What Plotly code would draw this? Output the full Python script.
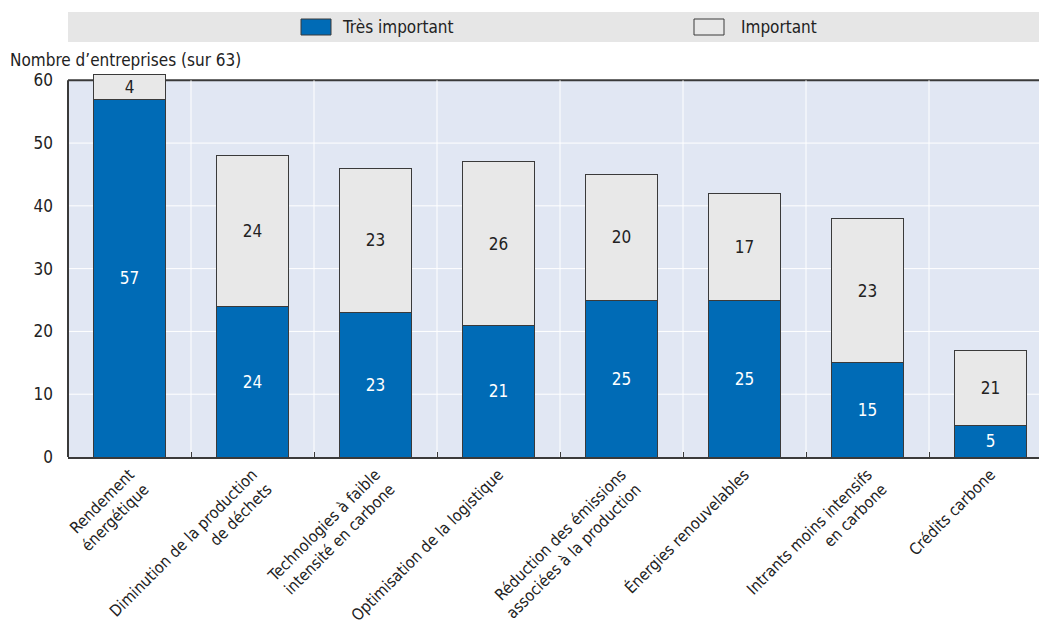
import plotly.graph_objects as go

categories = [
    "Rendement<br>énergétique",
    "Diminution de la production<br>de déchets",
    "Technologies à faible<br>intensité en carbone",
    "Optimisation de la logistique",
    "Réduction des émissions<br>associées à la production",
    "Énergies renouvelables",
    "Intrants moins intensifs<br>en carbone",
    "Crédits carbone",
]
tres_important = [57, 24, 23, 21, 25, 25, 15, 5]
important = [4, 24, 23, 26, 20, 17, 23, 12]
important_labels = ["4", "24", "23", "26", "20", "17", "23", "21"]
y_ticks = [0, 10, 20, 30, 40, 50, 60]

FONT = "Liberation Sans Narrow, DejaVu Sans Condensed, Arial Narrow, sans-serif"
BLUE = "#006BB6"
GREY = "#E8E8E8"
DARK = "#3a3a3a"
FS = 17
FS_TICK_X = 16

fig = go.Figure()
fig.add_trace(go.Bar(
    x=categories, y=tres_important, name="Très important",
    marker=dict(color=BLUE, line=dict(color=DARK, width=1)),
    text=[str(v) for v in tres_important], textposition="inside",
    insidetextanchor="middle", textangle=0, constraintext="none",
    textfont=dict(color="white", size=FS, family=FONT),
    width=0.58, showlegend=False, hoverinfo="skip",
))
fig.add_trace(go.Bar(
    x=categories, y=important, name="Important",
    marker=dict(color=GREY, line=dict(color=DARK, width=1)),
    text=important_labels, textposition="inside",
    insidetextanchor="middle", textangle=0, constraintext="none",
    textfont=dict(color="#222222", size=FS, family=FONT),
    width=0.58, showlegend=False, hoverinfo="skip",
))

W, H = 1039, 630
px0, px1 = 68, 1039
ptop, pbot = 74, 457
pw = px1 - px0
ph = pbot - ptop
def fx(p):
    return (p - px0) / pw
def fy(p):
    return (pbot - p) / ph

shapes = [
    dict(type="rect", xref="paper", yref="paper", x0=0, x1=1,
         y0=fy(42), y1=fy(12), fillcolor="#E6E6E6", line=dict(width=0), layer="below"),
    dict(type="rect", xref="paper", yref="paper", x0=fx(301), x1=fx(331),
         y0=fy(35), y1=fy(19), fillcolor=BLUE, line=dict(color=DARK, width=1)),
    dict(type="rect", xref="paper", yref="paper", x0=fx(694), x1=fx(724),
         y0=fy(35), y1=fy(19), fillcolor=GREY, line=dict(color=DARK, width=1)),
]
annotations = [
    dict(text="Très important", xref="paper", yref="paper", x=fx(340), y=fy(27),
         xanchor="left", yanchor="middle", showarrow=False,
         font=dict(size=FS, family=FONT, color="#222222")),
    dict(text="Important", xref="paper", yref="paper", x=fx(739), y=fy(27),
         xanchor="left", yanchor="middle", showarrow=False,
         font=dict(size=FS, family=FONT, color="#222222")),
    dict(text="Nombre d’entreprises (sur 63)", xref="paper", yref="paper",
         x=fx(8), y=fy(60), xanchor="left", yanchor="middle", showarrow=False,
         font=dict(size=FS, family=FONT, color="#222222")),
]

fig.update_layout(
    barmode="stack",
    width=W, height=H,
    margin=dict(l=px0, r=W - px1, t=ptop, b=H - pbot, autoexpand=False),
    paper_bgcolor="white",
    plot_bgcolor="rgba(0,0,0,0)",
    font=dict(family=FONT, size=FS, color="#222222"),
    shapes=shapes,
    annotations=annotations,
    hovermode=False,
)
# blue-grey plot background only up to 60
fig.add_shape(type="rect", xref="paper", yref="y", x0=0, x1=1, y0=0, y1=60,
              fillcolor="#E1E7F3", line=dict(width=0), layer="below")
# vertical white gridlines at category boundaries
for k in range(1, 8):
    fig.add_shape(type="line", xref="x", yref="y", x0=k - 0.5, x1=k - 0.5, y0=0, y1=60,
                  line=dict(color="white", width=1), layer="below")
# horizontal white gridlines
for t in y_ticks[1:-1]:
    fig.add_shape(type="line", xref="paper", yref="y", x0=0, x1=1, y0=t, y1=t,
                  line=dict(color="white", width=1), layer="below")
# top frame line at 60 and left axis line
fig.add_shape(type="line", xref="paper", yref="y", x0=0, x1=1, y0=60, y1=60,
              line=dict(color=DARK, width=2), layer="below")
fig.add_shape(type="line", xref="paper", yref="y", x0=0, x1=0, y0=0, y1=60,
              line=dict(color=DARK, width=2))

fig.update_xaxes(
    range=[-0.5, 7.394], tickangle=-45, tickson="boundaries",
    showgrid=False, automargin=False, fixedrange=True,
    ticks="inside", ticklen=5, tickcolor=DARK,
    showline=True, linecolor=DARK, linewidth=2,
    tickfont=dict(size=FS_TICK_X, family=FONT, color="#222222"),
)
fig.update_yaxes(
    range=[0, 61], tickvals=y_ticks, showgrid=False, automargin=False, fixedrange=True,
    showline=False, zeroline=False,
    ticks="", ticklabelstandoff=14,
    tickfont=dict(size=FS, family=FONT, color="#222222"),
)

fig.write_html(
    "out.html",
    config={"displayModeBar": False, "staticPlot": True},
    post_script="document.body.style.margin='0';document.body.style.overflow='hidden';",
)
